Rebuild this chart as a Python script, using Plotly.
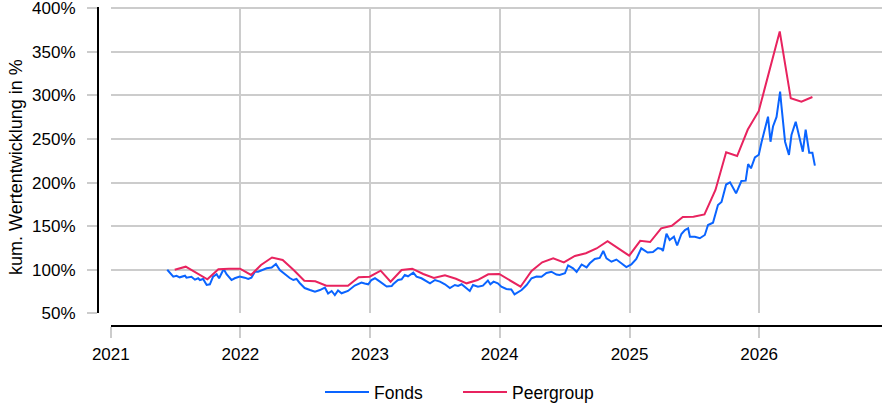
import plotly.graph_objects as go

# ---------------- data ----------------
fonds_dates = [
    "2021-06-09", "2021-06-26", "2021-07-05", "2021-07-14", "2021-07-29", "2021-08-02", "2021-08-16",
    "2021-08-26", "2021-09-04", "2021-09-09", "2021-09-18", "2021-09-28", "2021-10-07", "2021-10-16",
    "2021-10-26", "2021-11-02", "2021-11-09", "2021-11-15", "2021-11-23", "2021-12-02", "2021-12-07",
    "2021-12-16", "2021-12-30", "2022-01-13", "2022-01-23", "2022-02-01", "2022-02-11", "2022-02-20",
    "2022-03-02", "2022-03-16", "2022-03-30", "2022-04-11", "2022-04-22", "2022-05-06", "2022-05-20",
    "2022-05-30", "2022-06-08", "2022-06-17", "2022-07-01", "2022-07-16", "2022-07-30", "2022-08-13",
    "2022-08-27", "2022-09-05", "2022-09-15", "2022-09-24", "2022-10-03", "2022-10-13", "2022-10-22",
    "2022-10-31", "2022-11-19", "2022-12-08", "2022-12-17", "2022-12-27", "2023-01-05", "2023-01-15",
    "2023-01-29", "2023-02-17", "2023-03-03", "2023-03-07", "2023-03-21", "2023-03-31", "2023-04-09",
    "2023-04-18", "2023-05-03", "2023-05-12", "2023-05-26", "2023-06-09", "2023-06-19", "2023-07-03",
    "2023-07-17", "2023-07-31", "2023-08-14", "2023-08-28", "2023-09-06", "2023-09-16", "2023-09-30",
    "2023-10-09", "2023-10-18", "2023-11-01", "2023-11-15", "2023-11-29", "2023-12-06", "2023-12-15",
    "2023-12-27", "2024-01-06", "2024-01-20", "2024-02-03", "2024-02-12", "2024-02-21", "2024-03-03",
    "2024-03-17", "2024-03-31", "2024-04-14", "2024-04-28", "2024-05-12", "2024-05-26", "2024-06-09",
    "2024-06-18", "2024-07-03", "2024-07-12", "2024-07-26", "2024-08-05", "2024-08-19", "2024-09-02",
    "2024-09-11", "2024-09-25", "2024-10-09", "2024-10-19", "2024-10-28", "2024-11-11", "2024-11-25",
    "2024-12-09", "2024-12-23", "2025-01-06", "2025-01-20", "2025-02-03", "2025-02-21", "2025-03-08",
    "2025-03-22", "2025-04-01", "2025-04-05", "2025-04-15", "2025-04-24", "2025-05-06", "2025-05-15",
    "2025-05-27", "2025-06-06", "2025-06-15", "2025-06-20", "2025-07-04", "2025-07-18", "2025-08-01",
    "2025-08-10", "2025-08-24", "2025-09-07", "2025-09-17", "2025-09-30", "2025-10-11", "2025-10-28",
    "2025-11-12", "2025-11-24", "2025-12-01", "2025-12-09", "2025-12-20", "2025-12-31", "2026-01-08",
    "2026-01-17", "2026-01-26", "2026-02-02", "2026-02-09", "2026-02-19", "2026-03-01", "2026-03-05",
    "2026-03-15", "2026-03-26", "2026-04-02", "2026-04-14", "2026-04-23", "2026-05-04", "2026-05-12",
    "2026-05-22", "2026-05-31", "2026-06-07",
]
fonds_values = [
    100.0, 92.0, 93.1, 91.3, 93.1, 90.9, 92.0,
    88.6, 90.2, 88.2, 89.4, 82.5, 83.3, 92.0,
    94.8, 90.2, 95.9, 100.8, 94.8, 90.2, 88.2,
    90.2, 92.2, 90.9, 89.4, 90.9, 97.7, 97.7,
    99.1, 101.6, 102.6, 106.6, 99.7, 94.8, 90.5,
    88.2, 89.4, 84.8, 79.0, 76.7, 74.8, 76.7,
    79.4, 72.7, 75.6, 71.0, 76.2, 73.0, 74.4,
    75.6, 81.9, 85.3, 84.2, 83.3, 88.2, 90.2,
    86.3, 80.8, 81.3, 83.3, 88.2, 89.0, 94.0,
    92.5, 96.6, 92.0, 90.2, 86.5, 84.4, 88.2,
    86.3, 83.3, 79.0, 82.5, 81.3, 83.3, 78.5,
    75.6, 82.5, 80.5, 81.7, 87.6, 83.3, 86.3,
    84.4, 80.5, 77.9, 77.3, 71.8, 74.4, 76.7,
    82.5, 90.2, 92.2, 92.0, 96.2, 97.7, 94.5,
    94.0, 95.9, 104.9, 101.6, 97.4, 106.0, 102.6,
    107.4, 112.3, 113.5, 121.5, 113.1, 109.2, 111.7,
    107.7, 103.1, 106.0, 112.3, 124.6, 119.8, 120.3,
    124.9, 123.8, 121.5, 141.3, 134.1, 137.9, 127.8,
    141.0, 145.6, 147.5, 137.9, 137.9, 136.1, 139.9,
    151.3, 154.0, 174.3, 177.7, 197.8, 200.3, 187.7,
    201.8, 202.2, 221.3, 216.4, 228.8, 232.0, 246.9,
    262.3, 275.6, 246.9, 264.4, 275.3, 304.3, 287.1,
    246.9, 231.7, 254.6, 269.9, 252.7, 235.5, 260.7,
    234.3, 234.3, 219.4,
]

peer_dates = [
    "2021-06-30", "2021-07-31", "2021-09-30", "2021-10-31", "2021-11-30", "2021-12-31",
    "2022-01-31", "2022-02-28", "2022-03-31", "2022-04-30", "2022-05-31", "2022-06-30",
    "2022-07-31", "2022-08-31", "2022-10-31", "2022-11-30", "2022-12-31",
    "2023-01-31", "2023-02-28", "2023-03-31", "2023-04-30", "2023-05-31", "2023-06-30",
    "2023-07-31", "2023-08-31", "2023-09-30", "2023-10-31", "2023-11-30", "2023-12-31",
    "2024-02-29", "2024-03-31", "2024-04-30", "2024-05-31", "2024-06-30", "2024-07-31",
    "2024-08-31", "2024-09-30", "2024-10-31", "2024-12-31",
    "2025-01-31", "2025-02-28", "2025-03-31", "2025-04-30", "2025-05-31", "2025-06-30",
    "2025-07-31", "2025-08-31", "2025-09-30", "2025-10-31", "2025-11-30", "2025-12-31",
    "2026-02-28", "2026-03-31", "2026-04-30", "2026-05-31",
]
peer_values = [
    100.0, 103.5, 89.0, 100.5, 101.0, 101.2,
    94.0, 105.4, 114.0, 111.2, 99.7, 87.4,
    86.7, 81.7, 81.7, 91.3, 92.0,
    98.9, 86.3, 99.7, 101.2, 95.1, 90.5,
    93.6, 89.7, 84.4, 88.2, 94.8, 95.1,
    80.5, 98.5, 108.5, 113.1, 108.5, 115.8,
    118.9, 124.4, 132.7, 116.1,
    133.2, 131.8, 147.5, 150.4, 160.5, 160.7,
    163.4, 191.5, 234.8, 230.5, 260.9, 282.2,
    373.4, 296.7, 292.8, 298.2,
]

x_tick_vals = ["2021-01-01", "2022-01-01", "2023-01-01", "2024-01-01", "2025-01-01", "2026-01-01"]
x_tick_text = ["2021", "2022", "2023", "2024", "2025", "2026"]
y_tick_vals = [50, 100, 150, 200, 250, 300, 350, 400]
y_tick_text = ["50%", "100%", "150%", "200%", "250%", "300%", "350%", "400%"]

series_names = ["Fonds", "Peergroup"]
series_colors = ["#0A64FF", "#E8235F"]
y_title = "kum. Wertentwicklung in %"

# ---------------- layout constants ----------------
W, H = 882, 406
ML, MR, MT, MB = 98, 0, 7, 80
PW, PH = W - ML - MR, H - MT - MB
X_DOM_LEFT = (110.8 - ML) / PW
Y_DOM_BOTTOM = ((H - MB) - 313.3) / PH
X_RANGE = ["2021-01-01", "2026-12-13"]
Y_RANGE = [50, 401.5]

FONT = "Liberation Sans, Arial, Helvetica, sans-serif"
GRID = "#CCCCCC"
TXT = "#000000"

fig = go.Figure()
fig.add_trace(go.Scatter(x=fonds_dates, y=fonds_values, mode="lines", name=series_names[0],
                         line=dict(color=series_colors[0], width=2)))
fig.add_trace(go.Scatter(x=peer_dates, y=peer_values, mode="lines", name=series_names[1],
                         line=dict(color=series_colors[1], width=2)))

fig.update_layout(
    width=W, height=H,
    margin=dict(l=ML, r=MR, t=MT, b=MB, pad=0, autoexpand=False),
    paper_bgcolor="white", plot_bgcolor="white",
    font=dict(family=FONT, size=17, color=TXT),
    showlegend=True,
    legend=dict(orientation="h", x=(320 - ML) / PW, xanchor="left",
                y=(H - MB - 392) / PH, yanchor="middle",
                itemwidth=44, entrywidth=79, entrywidthmode="pixels",
                font=dict(family=FONT, size=17.5, color=TXT),
                bgcolor="rgba(0,0,0,0)"),
    xaxis=dict(type="date", range=X_RANGE, domain=[X_DOM_LEFT, 1], anchor="free", position=0,
               automargin=False, ticklabeloverflow="allow", ticklabelstandoff=2,
               showline=True, linecolor="#000000", linewidth=2,
               tickmode="array", tickvals=x_tick_vals, ticktext=x_tick_text,
               ticks="outside", ticklen=11, tickwidth=2, tickcolor=GRID,
               showgrid=True, gridcolor=GRID, gridwidth=2, zeroline=False,
               tickfont=dict(family=FONT, size=17, color=TXT)),
    yaxis=dict(range=Y_RANGE, domain=[Y_DOM_BOTTOM, 1], anchor="free", position=0,
               automargin=False, ticklabeloverflow="allow", ticklabelstandoff=8,
               showline=True, linecolor="#000000", linewidth=2,
               tickmode="array", tickvals=y_tick_vals, ticktext=y_tick_text,
               ticks="outside", ticklen=10, tickwidth=2, tickcolor=GRID,
               showgrid=True, gridcolor=GRID, gridwidth=2, zeroline=False,
               tickfont=dict(family=FONT, size=17, color=TXT)),
    xaxis2=dict(type="date", range=X_RANGE, overlaying="x", anchor="free", position=0,
                automargin=False,
                showline=False, tickmode="array", tickvals=x_tick_vals,
                ticks="inside", ticklen=11, tickwidth=2, tickcolor=GRID,
                showticklabels=False, showgrid=False, zeroline=False),
    yaxis2=dict(range=Y_RANGE, overlaying="y", anchor="free", position=0, side="left",
                automargin=False,
                showline=False, tickmode="array", tickvals=y_tick_vals,
                ticks="inside", ticklen=10, tickwidth=2, tickcolor=GRID,
                showticklabels=False, showgrid=False, zeroline=False),
    annotations=[dict(text=y_title, textangle=-90, xref="paper", yref="paper",
                      x=(16 - ML) / PW, y=(H - MB - 167) / PH, xanchor="center", yanchor="middle",
                      showarrow=False, font=dict(family=FONT, size=18, color=TXT))],
)

fig.write_html("out.html", config={"displayModeBar": False},
               post_script="document.body.style.margin='0';document.body.style.overflow='hidden';")
